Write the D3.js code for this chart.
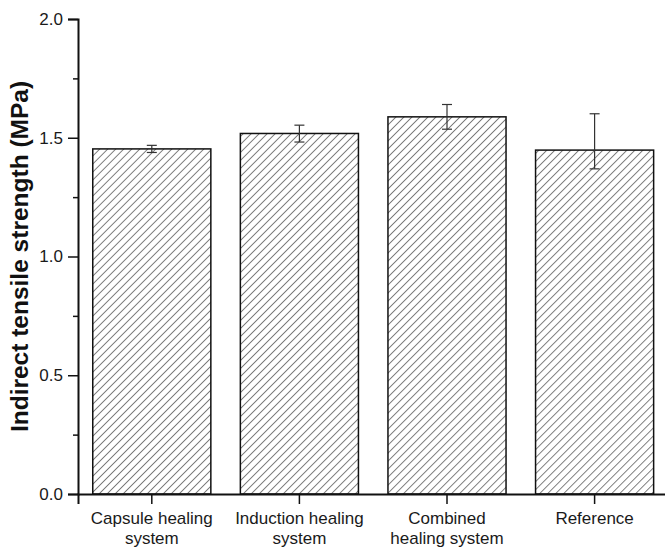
<!DOCTYPE html>
<html>
<head>
<meta charset="utf-8">
<script src="https://cdn.jsdelivr.net/npm/d3@7"></script>
<style>
  body { margin: 0; background: #fff; }
  svg { display: block; font-family: Arial, "Liberation Sans", sans-serif; }
</style>
</head>
<body>
<div id="chart"></div>
<script>
// data
var categories = [["Capsule healing", "system"], ["Induction healing", "system"], ["Combined", "healing system"], ["Reference"]];
var strength = [1.453, 1.518, 1.588, 1.448];
var errLow = [1.438, 1.482, 1.536, 1.369];
var errHigh = [1.468, 1.553, 1.640, 1.601];
var yTicks = [0, 0.5, 1.0, 1.5, 2.0];
var yMinor = [0.25, 0.75, 1.25, 1.75];

var width = 665, height = 551;
var margin = { left: 78, top: 19, bottom: 57 };

var svg = d3.select('#chart')
    .append('svg')
    .attr('width', width)
    .attr('height', height);

svg.append('rect').attr('width', width).attr('height', height).attr('fill', '#fff');

// hatch pattern for bars (about 8px apart horizontally)
var defs = svg.append('defs');
defs.append('pattern')
    .attr('id', 'hatch')
    .attr('patternUnits', 'userSpaceOnUse')
    .attr('width', 5.66)
    .attr('height', 10)
    .attr('patternTransform', 'rotate(45)')
    .append('line')
    .attr('x1', 0).attr('y1', 0)
    .attr('x2', 0).attr('y2', 10)
    .attr('stroke', '#1a1a1a')
    .attr('stroke-width', 1.1);

var x = d3.scaleBand()
    .domain(d3.range(categories.length))
    .range([margin.left, margin.left + 590.4])
    .paddingInner(0.2)
    .paddingOuter(0.1);

var y = d3.scaleLinear()
    .domain([0, 2])
    .range([height - margin.bottom, margin.top]);

// bars
svg.selectAll('rect.bar')
    .data(strength)
    .enter().append('rect')
    .attr('class', 'bar')
    .attr('x', function(d, i) { return x(i); })
    .attr('y', function(d) { return y(d); })
    .attr('width', x.bandwidth())
    .attr('height', function(d) { return y(0) - y(d); })
    .attr('fill', 'url(#hatch)')
    .attr('stroke', '#111')
    .attr('stroke-width', 1.5);

// error bars
var err = svg.append('g').attr('stroke', '#333').attr('stroke-width', 1.2);
strength.forEach(function(d, i) {
    var cx = x(i) + x.bandwidth() / 2;
    err.append('line')
        .attr('x1', cx).attr('x2', cx)
        .attr('y1', y(errLow[i])).attr('y2', y(errHigh[i]));
    [errLow[i], errHigh[i]].forEach(function(v) {
        err.append('line')
            .attr('x1', cx - 5).attr('x2', cx + 5)
            .attr('y1', y(v)).attr('y2', y(v));
    });
});

// y axis
var yAxis = svg.append('g')
    .attr('transform', 'translate(' + margin.left + ',0)')
    .call(d3.axisLeft(y).tickValues(yTicks).tickFormat(d3.format('.1f')).tickSizeOuter(0).tickSize(10).tickPadding(5));

svg.append('g')
    .attr('transform', 'translate(' + margin.left + ',0)')
    .call(d3.axisLeft(y).tickValues(yMinor).tickFormat('').tickSizeOuter(0).tickSize(5))
    .select('.domain').remove();

// x axis
var xAxis = svg.append('g')
    .attr('transform', 'translate(0,' + y(0) + ')')
    .call(d3.axisBottom(x).tickFormat('').tickSizeOuter(0).tickSize(10));

svg.selectAll('.domain').attr('stroke', '#111').attr('stroke-width', 2);
svg.selectAll('.tick line').attr('stroke', '#111').attr('stroke-width', 1.5);
yAxis.selectAll('.tick text')
    .attr('font-size', 17)
    .attr('fill', '#1a1a1a')
    .attr('font-family', 'Arial, "Liberation Sans", sans-serif');

// category labels, two lines each
xAxis.selectAll('.tick')
    .append('text')
    .attr('fill', '#1a1a1a')
    .attr('font-size', 17)
    .attr('text-anchor', 'middle')
    .attr('font-family', 'Arial, "Liberation Sans", sans-serif')
    .selectAll('tspan')
    .data(function(d) { return categories[d]; })
    .enter().append('tspan')
    .attr('x', 0)
    .attr('y', function(d, i) { return 30 + i * 20; })
    .text(function(d) { return d; });

// y axis title
svg.append('text')
    .attr('transform', 'translate(28,' + (y(0) + y(2)) / 2 + ') rotate(-90)')
    .attr('text-anchor', 'middle')
    .attr('font-size', 24.5)
    .attr('font-weight', 'bold')
    .attr('fill', '#111')
    .text('Indirect tensile strength (MPa)');
</script>
</body>
</html>
